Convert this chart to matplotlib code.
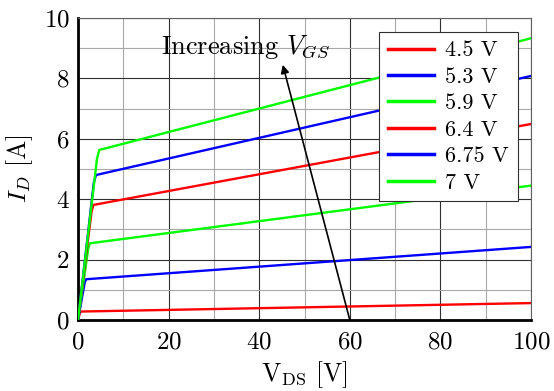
import numpy as np
import matplotlib.pyplot as plt
from matplotlib.ticker import MultipleLocator

plt.rcParams['font.family'] = 'serif'
plt.rcParams['font.serif'] = ['cmr10']
plt.rcParams['mathtext.fontset'] = 'cm'
plt.rcParams['axes.formatter.use_mathtext'] = True

# V_GS labels and curve points (V_DS, I_D)
labels = ['4.5 V', '5.3 V', '5.9 V', '6.4 V', '6.75 V', '7 V']
colors = ['#ff0000', '#0000ff', '#00ff00', '#ff0000', '#0000ff', '#00ff00']
vds = [
    [0, 0.45, 0.6, 100],
    [0, 1.5, 1.8, 100],
    [0, 2.3, 2.65, 100],
    [0, 3.0, 3.4, 100],
    [0, 3.5, 3.97, 100],
    [0, 4.2, 4.7, 100],
]
i_d = [
    [0, 0.25, 0.28, 0.56],
    [0, 1.25, 1.35, 2.42],
    [0, 2.4, 2.54, 4.45],
    [0, 3.6, 3.81, 6.49],
    [0, 4.55, 4.8, 8.08],
    [0, 5.35, 5.63, 9.33],
]

fig = plt.figure(figsize=(5.54, 3.91), dpi=100)
ax = fig.add_axes([0.1408, 0.1816, 0.8177, 0.7724])

for x, y, c, lab in zip(vds, i_d, colors, labels):
    ax.plot(x, y, color=c, linewidth=1.7, label=lab, zorder=3)

ax.set_xlim(0, 100)
ax.set_ylim(0, 10)
ax.xaxis.set_major_locator(MultipleLocator(20))
ax.xaxis.set_minor_locator(MultipleLocator(10))
ax.yaxis.set_major_locator(MultipleLocator(2))
ax.yaxis.set_minor_locator(MultipleLocator(1))
ax.grid(which='major', color='#303030', linewidth=0.8, zorder=0)
ax.grid(which='minor', color='#a8a8a8', linewidth=0.8, zorder=0)
ax.set_axisbelow(True)
ax.tick_params(which='both', length=0, labelsize=18)
ax.tick_params(axis='x', pad=8)
ax.tick_params(axis='y', pad=6)

for s in ['left', 'bottom']:
    ax.spines[s].set_linewidth(2)
    ax.spines[s].set_color('black')
for s in ['top', 'right']:
    ax.spines[s].set_linewidth(0.8)
    ax.spines[s].set_color('#606060')

ax.set_xlabel(r'V$_{\mathrm{DS}}$ [V]', fontsize=18.5, labelpad=4)
ax.set_ylabel(r'$I_D$ [A]', fontsize=18.5, labelpad=6)

ax.annotate('', xy=(45.2, 8.45), xytext=(60, 0),
            arrowprops=dict(arrowstyle='-|>', color='black', lw=1.2,
                            mutation_scale=12, shrinkA=0, shrinkB=0),
            zorder=4)
ax.text(37.1, 9.04, r'Increasing $V_{GS}$', fontsize=19, ha='center', va='center',
        zorder=5)

leg = ax.legend(loc='upper right', bbox_to_anchor=(0.971, 0.954), fontsize=16,
                borderaxespad=0, handlelength=2.1, handletextpad=0.5,
                borderpad=0.4, labelspacing=0.31, fancybox=False, framealpha=1,
                edgecolor='#303030')
leg.get_frame().set_linewidth(0.8)
for h in leg.get_lines():
    h.set_linewidth(2.5)

fig.savefig('out.png', dpi=100)
